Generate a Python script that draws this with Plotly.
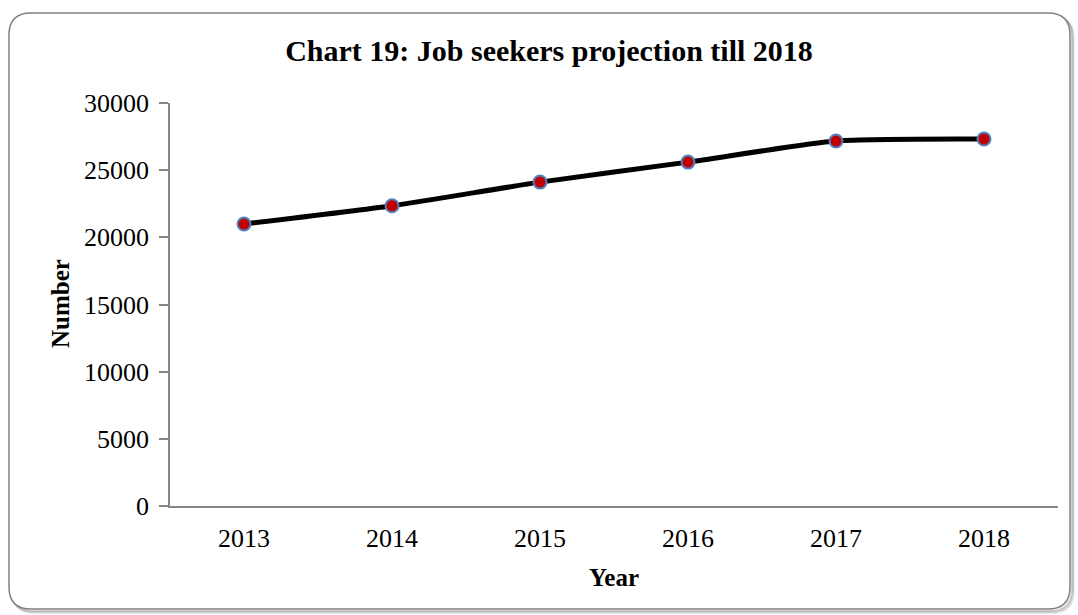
import plotly.graph_objects as go

# Job seekers projection data
years = ["2013", "2014", "2015", "2016", "2017", "2018"]
job_seekers = [20990, 22350, 24110, 25600, 27170, 27320]
y_ticks = [0, 5000, 10000, 15000, 20000, 25000, 30000]

W, H = 1078, 615
L, R, T, B = 170, 20, 103, 109
PW, PH = W - L - R, H - T - B

FONT = "Liberation Serif, Times New Roman, serif"


def px(x):
    return (x - L) / PW


def py(y):
    return (H - B - y) / PH


def rounded_rect(x0, y0, x1, y1, r):
    pts = [
        ("M", (x0 + r, y0)),
        ("L", (x1 - r, y0)),
        ("Q", (x1, y0), (x1, y0 + r)),
        ("L", (x1, y1 - r)),
        ("Q", (x1, y1), (x1 - r, y1)),
        ("L", (x0 + r, y1)),
        ("Q", (x0, y1), (x0, y1 - r)),
        ("L", (x0, y0 + r)),
        ("Q", (x0, y0), (x0 + r, y0)),
    ]
    out = []
    for item in pts:
        cmd = item[0]
        coords = " ".join(f"{px(a):.5f},{py(b):.5f}" for a, b in item[1:])
        out.append(f"{cmd}{coords}")
    return " ".join(out) + " Z"


fig = go.Figure()

fig.add_trace(go.Scatter(
    x=years,
    y=job_seekers,
    mode="lines+markers",
    line=dict(color="black", width=5, shape="spline", smoothing=0.6),
    marker=dict(size=13, color="#C00000", line=dict(color="#4F81BD", width=2)),
    showlegend=False,
    hoverinfo="x+y",
))

shapes = []
# soft drop shadow of the chart frame
for off, op in [(4, 0.15), (3, 0.25), (2, 0.35)]:
    shapes.append(dict(
        type="path", xref="paper", yref="paper",
        path=rounded_rect(9 + off, 13 + off, 1070 + off, 609 + off, 22),
        line=dict(color="rgba(120,120,120,%.2f)" % op, width=2),
        fillcolor="rgba(0,0,0,0)", layer="below",
    ))
shapes.append(dict(
    type="path", xref="paper", yref="paper",
    path=rounded_rect(9, 13, 1070, 609, 22),
    line=dict(color="#808080", width=1.5),
    fillcolor="white", layer="below",
))

fig.update_layout(
    width=W, height=H,
    margin=dict(l=L, r=R, t=T, b=B),
    paper_bgcolor="white",
    plot_bgcolor="rgba(0,0,0,0)",
    font=dict(family=FONT, color="black", size=22),
    shapes=shapes,
    title=dict(
        text="<b>Chart 19: Job seekers projection till 2018</b>",
        x=549 / W, xref="container", xanchor="center",
        y=1 - 50 / H, yref="container", yanchor="middle",
        font=dict(family=FONT, size=30, color="black"),
    ),
    xaxis=dict(
        type="category",
        range=[-0.5, 5.5],
        showline=True, linecolor="#868686", linewidth=1.5,
        ticks="", showgrid=False, zeroline=False,
        tickfont=dict(family=FONT, size=26),
        ticklabelstandoff=8,
    ),
    yaxis=dict(
        range=[0, 30000],
        tickvals=y_ticks,
        ticktext=[str(v) for v in y_ticks],
        showline=True, linecolor="#868686", linewidth=1.5,
        ticks="outside", ticklen=9, tickcolor="#868686", tickwidth=1.5,
        showgrid=False, zeroline=False,
        tickfont=dict(family=FONT, size=26),
        ticklabelstandoff=5,
    ),
    annotations=[
        dict(text="<b>Number</b>", textangle=-90,
             x=px(60), y=py(304), xref="paper", yref="paper",
             showarrow=False, font=dict(family=FONT, size=25),
             xanchor="center", yanchor="middle"),
        dict(text="<b>Year</b>",
             x=px(614), y=py(577), xref="paper", yref="paper",
             showarrow=False, font=dict(family=FONT, size=25),
             xanchor="center", yanchor="middle"),
    ],
)

fig.write_html("out.html")
